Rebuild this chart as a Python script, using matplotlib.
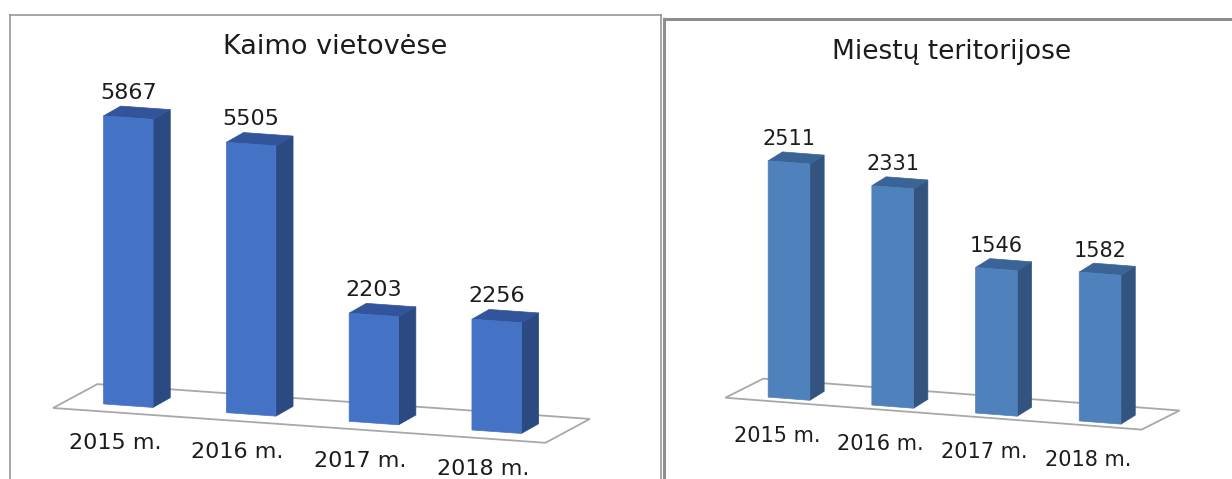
import matplotlib
matplotlib.use("Agg")
import matplotlib.pyplot as plt
from matplotlib.patches import Polygon
from matplotlib.transforms import Affine2D

W, H = 1232, 479

years = ["2015 m.", "2016 m.", "2017 m.", "2018 m."]
kaimo = [5867, 5505, 2203, 2256]
miestu = [2511, 2331, 1546, 1582]

plt.rcParams["font.family"] = ["DejaVu Sans"]
TXT = "#1c1c1c"
EDGE = "#a8a8a8"
BORDER = "#8e8e8e"


def panel(fig, box, title, title_xy, values, p):
    # box = left, top, right, bottom in pixels
    l, t, r, b = box
    ax = fig.add_axes([l / W, 1 - b / H, (r - l) / W, (b - t) / H])
    # category 0 sits at x0/y0 px, one category is step px wide, one unit is scale px high
    step, scale = p["step"], p["scale"]
    ax.set_xlim((l - p["x0"]) / step, (r - p["x0"]) / step)
    ax.set_ylim((p["y0"] - b) / scale, (p["y0"] - t) / scale)
    ax.set_xticks([])
    ax.set_yticks([])
    ax.spines["bottom"].set_visible(False)
    if p["open_right"]:
        ax.spines["right"].set_visible(False)
    for s in ax.spines.values():
        s.set_color(BORDER)
        s.set_linewidth(p["border"])

    # the floor runs downhill, so shear everything by the same amount
    k = -p["slope"] * step / scale
    shear = Affine2D.from_values(1, k, 0, 1, 0, 0) + ax.transData

    w = p["width"] / step
    dx, dy = p["depth_x"] / step, p["depth_y"] / scale

    fx0, fx1 = p["floor_x"]
    fy = p["floor_y"] / scale
    bx, by = p["floor_back"][0] / step, p["floor_back"][1] / scale
    ax.add_patch(Polygon([(fx0, fy), (fx1, fy), (fx1 + bx, fy + by), (fx0 + bx, fy + by)],
                         closed=True, fc="white", ec=EDGE, lw=1.3, transform=shear, zorder=1))

    xs = range(len(values))
    ax.bar(xs, values, width=w, color=p["front"], ec=p["front"], lw=0.5, transform=shear, zorder=3)
    for i, v in zip(xs, values):
        e = i + w / 2
        ax.add_patch(Polygon([(e, 0), (e + dx, dy), (e + dx, v + dy), (e, v)],
                             closed=True, fc=p["side"], ec=p["side"], lw=0.5, transform=shear, zorder=2))
        ax.add_patch(Polygon([(e - w, v), (e, v), (e + dx, v + dy), (e - w + dx, v + dy)],
                             closed=True, fc=p["top"], ec=p["top"], lw=0.5, transform=shear, zorder=2))
        ax.text(i, v + p["label_gap"] / scale, str(v), ha="center", va="center", fontsize=p["fs"],
                color=TXT, transform=shear, zorder=4)
        ax.text(i + p["year_dx"] / step, -p["year_gap"] / scale, years[i], ha="center", va="center",
                fontsize=p["year_fs"], color=TXT, transform=shear, zorder=4)

    fig.text(title_xy[0] / W, 1 - title_xy[1] / H, title, ha="center", va="center",
             fontsize=p["title_fs"], color=TXT)


fig = plt.figure(figsize=(W / 100, H / 100), dpi=100, facecolor="white")

panel(fig, (10, 15, 661, 485), "Kaimo vietovėse", (335.5, 47), kaimo, dict(
    x0=128.3, y0=405.7, step=122.8, scale=0.0491, slope=0.0707, width=49.5,
    depth_x=17.2, depth_y=11, floor_x=(-0.613, 3.397), floor_y=-7.6, floor_back=(44.4, 27),
    label_gap=25, year_dx=-13.5, year_gap=38.5, fs=16, year_fs=16, title_fs=19.5,
    front="#4472c4", side="#2b4a82", top="#31549a", border=1.1, open_right=False))

panel(fig, (664, 19, 1240, 485), "Miestų teritorijose", (952, 52), miestu, dict(
    x0=789, y0=398.7, step=103.7, scale=0.0941, slope=0.0766, width=41.7,
    depth_x=14.3, depth_y=10, floor_x=(-0.614, 3.4), floor_y=-3.9, floor_back=(38, 22),
    label_gap=23, year_dx=-12, year_gap=38, fs=15, year_fs=15, title_fs=19,
    front="#4f81bd", side="#32547f", top="#3a6496", border=2.2, open_right=True))

fig.savefig("out.png", dpi=100)
